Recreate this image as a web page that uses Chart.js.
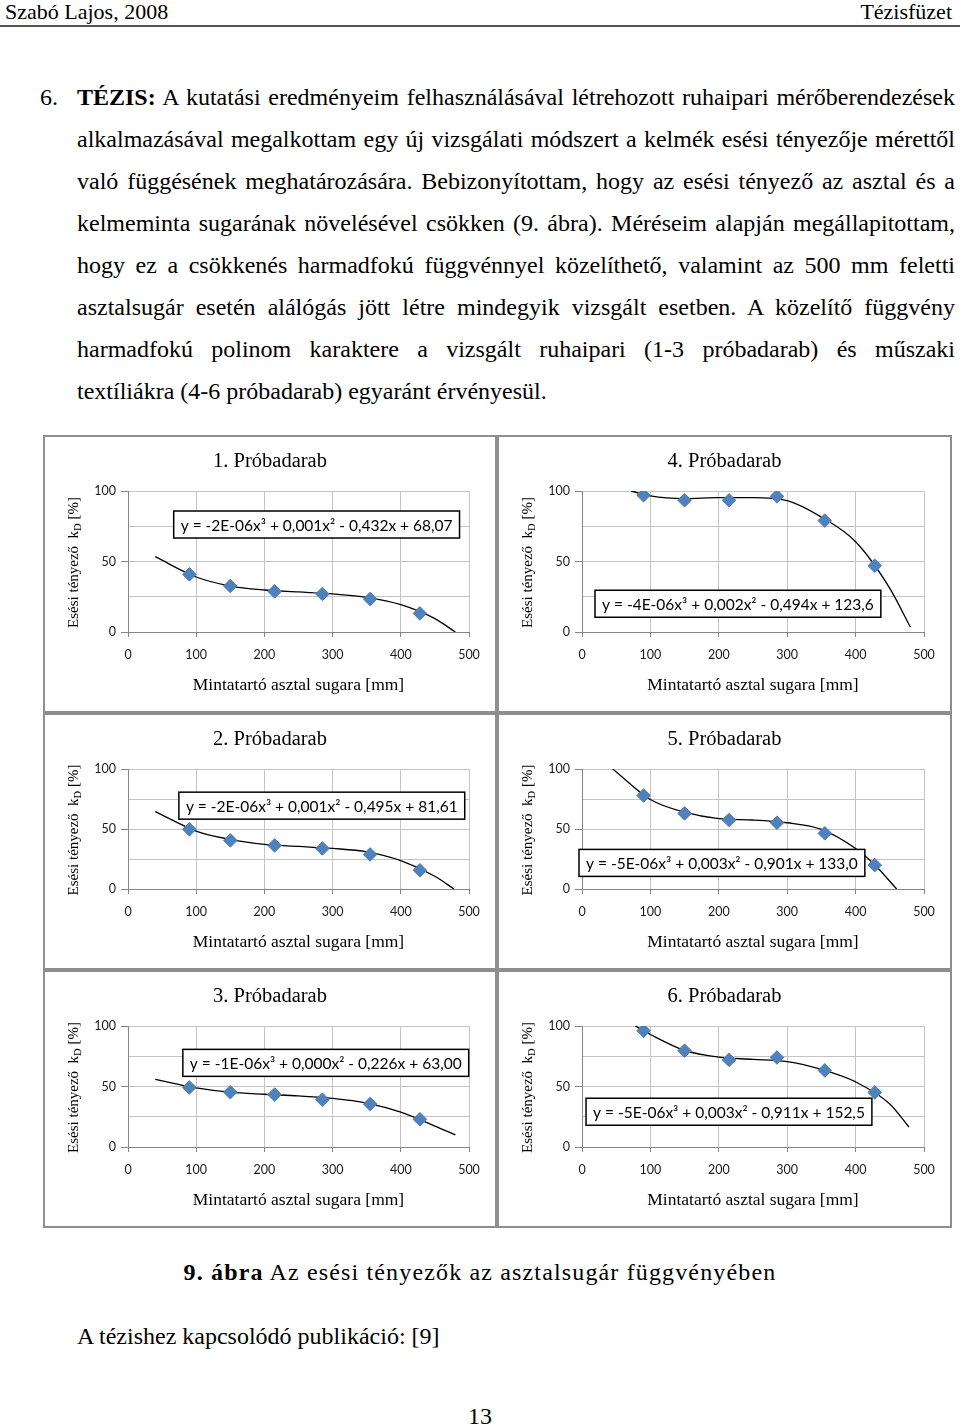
<!DOCTYPE html>
<html lang="hu"><head><meta charset="utf-8">
<script src="https://cdn.jsdelivr.net/npm/chart.js@4"></script>
<style>
html,body{margin:0;padding:0;background:#fff}
body{width:960px;height:1428px;position:relative;overflow:hidden;font-family:'Liberation Serif','Times New Roman',serif;color:#000}
.abs{position:absolute;white-space:nowrap}
#hl{left:5px;top:0px;font-size:22px;line-height:24px}
#hr{right:8px;top:0px;font-size:22px;line-height:24px}
#rule{left:0;top:25px;width:960px;height:2px;background:#555}
#body{left:77px;top:76px;width:878px;font-size:24px;line-height:42px}
#body .ln{text-align:justify;text-align-last:justify;white-space:nowrap}
#body .ln.last{text-align:left;text-align-last:left}
#num{left:40px;top:76px;font-size:24px;line-height:42px}
#cap{left:0;width:960px;top:1258px;text-align:center;font-size:24px;line-height:28px;letter-spacing:1.15px}
#pub{left:77px;top:1322px;font-size:24px;line-height:28px}
#pg{left:0;width:960px;top:1403px;text-align:center;font-size:24px;line-height:26px}
.panel{position:absolute;box-shadow:inset 0 0 0 2px #8e8e8e;background:transparent}
.panel canvas{position:absolute;left:0;top:0}
</style></head>
<body>
<div id="hl" class="abs">Szabó Lajos, 2008</div>
<div id="hr" class="abs">Tézisfüzet</div>
<div id="rule" class="abs"></div>

<div id="num" class="abs">6.</div>
<div id="body" class="abs">
<div class="ln"><b>TÉZIS:</b> A kutatási eredményeim felhasználásával létrehozott ruhaipari mérőberendezések</div>
<div class="ln">alkalmazásával megalkottam egy új vizsgálati módszert a kelmék esési tényezője mérettől</div>
<div class="ln">való függésének meghatározására. Bebizonyítottam, hogy az esési tényező az asztal és a</div>
<div class="ln">kelmeminta sugarának növelésével csökken (9. ábra). Méréseim alapján megállapitottam,</div>
<div class="ln">hogy ez a csökkenés harmadfokú függvénnyel közelíthető, valamint az 500 mm feletti</div>
<div class="ln">asztalsugár esetén alálógás jött létre mindegyik vizsgált esetben. A közelítő függvény</div>
<div class="ln">harmadfokú polinom karaktere a vizsgált ruhaipari (1-3 próbadarab) és műszaki</div>
<div class="ln last">textíliákra (4-6 próbadarab) egyaránt érvényesül.</div>
</div>

<div id="p1" class="panel" style="left:43px;top:435px;width:454px;height:278px"><canvas id="c1" width="454" height="278"></canvas></div>
<div id="p4" class="panel" style="left:497px;top:435px;width:455px;height:278px"><canvas id="c4" width="455" height="278"></canvas></div>
<div id="p2" class="panel" style="left:43px;top:713px;width:454px;height:257px"><canvas id="c2" width="454" height="257"></canvas></div>
<div id="p5" class="panel" style="left:497px;top:713px;width:455px;height:257px"><canvas id="c5" width="455" height="257"></canvas></div>
<div id="p3" class="panel" style="left:43px;top:970px;width:454px;height:258px"><canvas id="c3" width="454" height="258"></canvas></div>
<div id="p6" class="panel" style="left:497px;top:970px;width:455px;height:258px"><canvas id="c6" width="455" height="258"></canvas></div>

<div id="cap" class="abs"><b>9. ábra</b> Az esési tényezők az asztalsugár függvényében</div>
<div id="pub" class="abs">A tézishez kapcsolódó publikáció: [9]</div>
<div id="pg" class="abs">13</div>

<script>
// ---------- data ----------
const radiusMm = [90, 150, 215, 285, 355, 428];           // measured table radii [mm]
const xTicks = [0, 100, 200, 300, 400, 500];
const yTicks = [0, 50, 100];

const titles = ['1. Próbadarab', '2. Próbadarab', '3. Próbadarab',
                '4. Próbadarab', '5. Próbadarab', '6. Próbadarab'];

// measured drape coefficients kD [%]
const kd1 = [40.9, 32.6, 28.8, 27.0, 23.4, 13.2];
const kd2 = [49.7, 40.5, 36.3, 33.8, 28.8, 15.6];
const kd3 = [49.2, 45.3, 43.3, 39.1, 35.5, 22.9];
const kd4 = [97.0, 93.4, 93.4, 96.2, 79.0, 47.0];
const kd5 = [77.9, 63.0, 57.5, 55.2, 46.4, 19.9];
const kd6 = [96.1, 79.6, 72.0, 74.0, 63.3, 45.1];

// trendline points
const fitX1 = [40, 100, 150, 200, 250, 300, 350, 400, 450, 480];
const fitY1 = [53.4, 39.0, 32.6, 29.8, 28.4, 27.0, 24.6, 19.4, 9.5, 0];
const fitX2 = [40, 100, 150, 200, 250, 300, 350, 400, 450, 478];
const fitY2 = [64.5, 48.3, 41.3, 37.2, 35.5, 33.8, 31.0, 23.7, 10.6, 0];
const fitX3 = [40, 100, 150, 200, 250, 300, 350, 400, 450, 480];
const fitY3 = [55.9, 48.9, 45.3, 43.6, 42.2, 40.2, 36.3, 28.8, 17.3, 10.0];
const fitX4 = [72, 100, 150, 200, 250, 300, 350, 400, 450, 480];
const fitY4 = [100, 96.5, 94.6, 95.3, 95.3, 93.2, 81.5, 64.0, 31.0, 3.5];
const fitX5 = [45, 100, 150, 200, 250, 300, 350, 400, 430, 460];
const fitY5 = [100, 74.6, 64.0, 58.6, 57.5, 55.2, 49.7, 33.7, 19.0, 0];
const fitX6 = [78, 100, 150, 200, 250, 300, 350, 400, 450, 478];
const fitY6 = [100, 93.0, 79.8, 74.2, 72.5, 70.6, 64.1, 53.8, 35.6, 16.5];

const equations = [
  'y = -2E-06x³ + 0,001x² - 0,432x + 68,07',
  'y = -2E-06x³ + 0,001x² - 0,495x + 81,61',
  'y = -1E-06x³ + 0,000x² - 0,226x + 63,00',
  'y = -4E-06x³ + 0,002x² - 0,494x + 123,6',
  'y = -5E-06x³ + 0,003x² - 0,901x + 133,0',
  'y = -5E-06x³ + 0,003x² - 0,911x + 152,5'
];

// ---------- layout (positions of the equation boxes, in axis units: left, top) ----------
const eqBoxPos = [[67, 85.8], [74.6, 80.7], [80.4, 80.7], [19, 29.6], [-4.4, 33], [5.9, 40.3]];

const kdSets = [kd1, kd2, kd3, kd4, kd5, kd6];
const fitXs = [fitX1, fitX2, fitX3, fitX4, fitX5, fitX6];
const fitYs = [fitY1, fitY2, fitY3, fitY4, fitY5, fitY6];

const SANS = 'Lato, "Open Sans", sans-serif';
const SERIF = '"Liberation Serif", "Times New Roman", serif';

const yTitlePlugin = {
  id: 'ytitle',
  afterDraw(chart) {
    const {ctx, chartArea} = chart;
    const cy = (chartArea.top + chartArea.bottom) / 2 + 1;
    const big = '15px ' + SERIF, small = '10.5px ' + SERIF;
    const parts = [['Esési tényező  k', big, 0], ['D', small, 4], [' [%]', big, 0]];
    ctx.save();
    let total = 0;
    parts.forEach(p => { ctx.font = p[1]; p.push(ctx.measureText(p[0]).width); total += p[3]; });
    ctx.translate(31, cy);
    ctx.rotate(-Math.PI / 2);
    ctx.fillStyle = '#000';
    ctx.textBaseline = 'middle';
    ctx.textAlign = 'left';
    let x = -total / 2;
    parts.forEach(p => { ctx.font = p[1]; ctx.fillText(p[0], x, p[2]); x += p[3]; });
    ctx.restore();
  }
};

const eqPlugin = {
  id: 'eqbox',
  afterDatasetsDraw(chart, args, opts) {
    const {ctx, scales} = chart;
    const x = scales.x.getPixelForValue(opts.left);
    const y = scales.y.getPixelForValue(opts.top);
    ctx.save();
    ctx.font = '15.5px ' + SANS;
    const w = ctx.measureText(opts.text).width + 14;
    const h = 27;
    ctx.fillStyle = '#fff';
    ctx.fillRect(x, y, w, h);
    ctx.lineWidth = 1.5;
    ctx.strokeStyle = '#000';
    ctx.strokeRect(x, y, w, h);
    ctx.fillStyle = '#000';
    ctx.textBaseline = 'middle';
    ctx.fillText(opts.text, x + 7, y + h / 2 + 1);
    ctx.restore();
  }
};

function makeChart(i) {
  const canvas = document.getElementById('c' + (i + 1));
  const points = radiusMm.map((r, k) => ({x: r, y: kdSets[i][k]}));
  const fit = fitXs[i].map((x, k) => ({x: x, y: fitYs[i][k]}));
  new Chart(canvas, {
    type: 'scatter',
    data: {
      datasets: [
        {data: points, pointStyle: 'rectRot', pointRadius: 6.8, pointHoverRadius: 6.8,
         backgroundColor: '#4F81BD', borderColor: '#4A7EBB', borderWidth: 1, order: 1},
        {data: fit, showLine: true, pointRadius: 0, borderColor: '#000', borderWidth: 1.3,
         cubicInterpolationMode: 'monotone', fill: false, order: 2}
      ]
    },
    options: {
      responsive: false,
      animation: false,
      devicePixelRatio: 1,
      events: [],
      layout: {padding: {left: 28, right: 28, top: 0, bottom: 0}},
      plugins: {
        legend: {display: false},
        tooltip: {enabled: false},
        title: {display: true, text: titles[i], color: '#000',
                font: {family: SERIF, size: 20.5, weight: 'normal'},
                padding: {top: 14, bottom: 17.4}},
        eqbox: {text: equations[i], left: eqBoxPos[i][0], top: eqBoxPos[i][1]}
      },
      scales: {
        x: {
          type: 'linear', min: xTicks[0], max: xTicks[xTicks.length - 1],
          afterBuildTicks: s => { s.ticks = xTicks.map(v => ({value: v})); },
          afterFit: s => { s.height = 81; },
          grid: {color: '#c4c4c4', lineWidth: 1, tickLength: 5, tickColor: '#868686'},
          border: {color: '#868686', width: 1},
          ticks: {color: '#1a1a1a', font: {family: SANS, size: 12.5}, padding: 10, maxRotation: 0},
          title: {display: true, text: 'Mintatartó asztal sugara [mm]', color: '#000',
                  font: {family: SERIF, size: 17.5}, padding: {top: 0, bottom: 17}}
        },
        y: {
          type: 'linear', min: 0, max: 100,
          afterBuildTicks: s => { s.ticks = [0, 25, 50, 75, 100].map(v => ({value: v})); },
          afterFit: s => { s.width = 57; },
          grid: {color: '#c4c4c4', lineWidth: 1, tickLength: 7,
                 tickColor: c => (yTicks.includes(c.tick.value) ? '#868686' : 'rgba(0,0,0,0)')},
          border: {color: '#868686', width: 1},
          ticks: {color: '#1a1a1a', font: {family: SANS, size: 12.5}, padding: 5,
                  callback: v => (yTicks.includes(v) ? String(v) : '')}
        }
      }
    },
    plugins: [yTitlePlugin, eqPlugin]
  });
}

for (let i = 0; i < 6; i++) makeChart(i);
</script>
</body></html>
